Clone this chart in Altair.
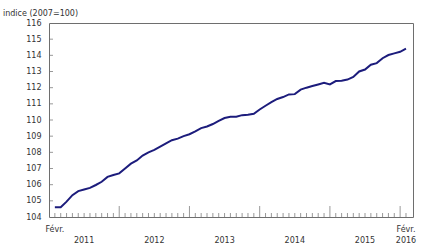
import altair as alt
import pandas as pd

# Monthly index values, Feb 2011 .. Feb 2016
values = [104.6, 104.6, 104.95, 105.35, 105.6, 105.7, 105.8, 105.98, 106.18, 106.48,
          106.6, 106.7, 107.0, 107.3, 107.5, 107.8, 108.0, 108.15, 108.35, 108.55,
          108.75, 108.85, 109.0, 109.12, 109.3, 109.5, 109.6, 109.75, 109.95, 110.12,
          110.2, 110.2, 110.3, 110.32, 110.38, 110.65, 110.88, 111.1, 111.3, 111.42,
          111.58, 111.6, 111.88, 112.0, 112.1, 112.2, 112.3, 112.2, 112.41, 112.43,
          112.5, 112.66, 113.0, 113.12, 113.42, 113.52, 113.82, 114.02, 114.12, 114.22,
          114.41]
first_year = 2011
first_month = 2
y_ticks = list(range(104, 117))
year_labels = ["2011", "2012", "2013", "2014", "2015", "2016"]
month_label = "Févr."
title_text = "indice (2007=100)"

n = len(values)
k = list(range(n))
cal_month = [(first_month - 1 + i) % 12 + 1 for i in k]
cal_year = [first_year + (first_month - 1 + i) // 12 for i in k]
df = pd.DataFrame({"k": k, "value": values, "month": cal_month, "year": cal_year,
                   "base": [y_ticks[0]] * n})

year_k = []
for y in year_labels:
    yi = int(y)
    if yi == cal_year[-1]:
        year_k.append(k[-1])
    else:
        jan_k = 12 * (yi - first_year) - (first_month - 1)
        year_k.append(jan_k + 6)
year_df = pd.DataFrame({"k": year_k, "label": year_labels})
mon_df = pd.DataFrame({"k": [k[0], k[-1]], "label": [month_label, month_label]})
inner = y_ticks[1:-1]
ytick_df = pd.DataFrame({"v": inner, "left": [-1] * len(inner)})

FONT = "DejaVu Sans"
GRAY = "#6e6e6e"
TXT = "#333333"

xs = alt.Scale(domain=[-1, 61.2], nice=False, zero=False)
ys = alt.Scale(domain=[104, 116], nice=False, zero=False)
yaxis = alt.Axis(values=y_ticks, ticks=False, domain=False, grid=False,
                 labelPadding=8, labelFont=FONT, labelFontSize=8, labelColor=TXT)
X = alt.X("k:Q", scale=xs, axis=None)
YB = alt.Y("base:Q", scale=ys, axis=yaxis, title=None)

line = alt.Chart(df).mark_line(color="#1c1c7c", strokeWidth=2).encode(
    x=X,
    y=alt.Y("value:Q", scale=ys, title=None, axis=yaxis),
)

minor = alt.Chart(df).transform_filter("datum.month != 1").mark_tick(
    orient="vertical", size=4, thickness=1, color=GRAY, yOffset=-2
).encode(x=X, y=YB)

major = alt.Chart(df).transform_filter("datum.month == 1").mark_tick(
    orient="vertical", size=11, thickness=1, color=GRAY, yOffset=-5.5
).encode(x=X, y=YB)

yt = alt.Chart(ytick_df).mark_tick(
    orient="horizontal", size=4, thickness=1, color=GRAY, xOffset=2
).encode(x=alt.X("left:Q", scale=xs, axis=None),
         y=alt.Y("v:Q", scale=ys, axis=yaxis, title=None))

mon_text = alt.Chart(mon_df).mark_text(
    font=FONT, fontSize=8, color=TXT, baseline="middle", align="center"
).encode(x=X, y=alt.value(207), text="label:N")

year_text = alt.Chart(year_df).mark_text(
    font=FONT, fontSize=8, color=TXT, baseline="middle", align="center"
).encode(x=X, y=alt.value(218), text="label:N")

title = alt.Chart(pd.DataFrame({"t": [title_text]})).mark_text(
    font=FONT, fontSize=8, color=TXT, baseline="middle", align="left"
).encode(x=alt.value(-46), y=alt.value(-9), text="t:N")

chart = alt.layer(line, minor, major, yt, mon_text, year_text, title).properties(
    width=364, height=194,
    background="white",
    autosize=alt.AutoSizeParams(type="none"),
    padding={"left": 49, "top": 23, "right": 22, "bottom": 34},
).configure_view(stroke=GRAY, strokeWidth=1)

chart.save("out.html", embed_options={"renderer": "svg", "actions": False})
